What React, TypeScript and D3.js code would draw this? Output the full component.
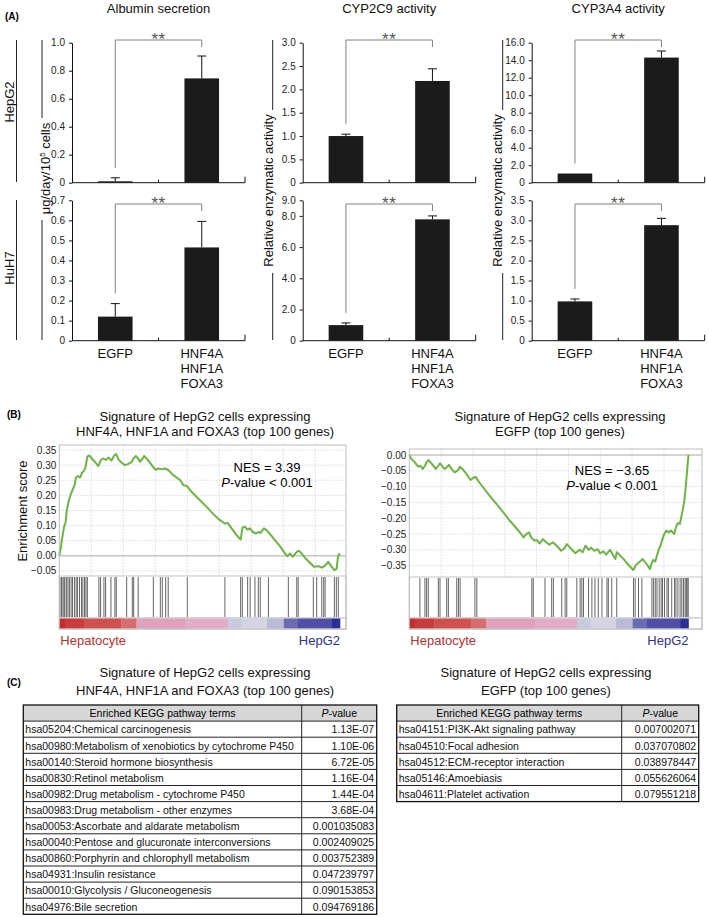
import { useEffect, useRef } from "react";
import * as d3 from "d3";

const FONT = "'Liberation Sans', Arial, Helvetica, sans-serif";
const W = 709;
const H = 917;

// ---------- panel A data ----------
const groups = ["EGFP", "HNF4A|HNF1A|FOXA3"];
const assays = ["Albumin secretion", "CYP2C9 activity", "CYP3A4 activity"];
const cellLines = ["HepG2", "HuH7"];

const albuminHepG2 = [0.01, 0.745];
const albuminHepG2Err = [0.025, 0.16];
const albuminHuH7 = [0.12, 0.465];
const albuminHuH7Err = [0.065, 0.13];
const cyp2c9HepG2 = [1.0, 2.18];
const cyp2c9HepG2Err = [0.04, 0.26];
const cyp2c9HuH7 = [1.0, 7.78];
const cyp2c9HuH7Err = [0.14, 0.22];
const cyp3a4HepG2 = [1.05, 14.3];
const cyp3a4HepG2Err = [0, 0.75];
const cyp3a4HuH7 = [0.98, 2.88];
const cyp3a4HuH7Err = [0.06, 0.17];

const albuminHepG2Ticks = [0, 0.2, 0.4, 0.6, 0.8, 1.0];
const albuminHuH7Ticks = [0, 0.1, 0.2, 0.3, 0.4, 0.5, 0.6, 0.7];
const cyp2c9HepG2Ticks = [0, 0.5, 1.0, 1.5, 2.0, 2.5, 3.0];
const cyp2c9HuH7Ticks = [0, 2, 4, 6, 8, 9];
const cyp3a4HepG2Ticks = [0, 2, 4, 6, 8, 10, 12, 14, 16];
const cyp3a4HuH7Ticks = [0, 0.5, 1.0, 1.5, 2.0, 2.5, 3.0, 3.5];

const yLabels = ["μg/day/10|5| cells", "Relative enzymatic activity", "Relative enzymatic activity"];

// ---------- panel B data (rank %, enrichment score) ----------
const hnfEsTicks = [0.35, 0.3, 0.25, 0.2, 0.15, 0.1, 0.05, 0, -0.05];
const egfpEsTicks = [0, -0.05, -0.1, -0.15, -0.2, -0.25, -0.3, -0.35];
const rankGrid = [11.4, 22.8, 34.2, 45.6, 57, 68.4, 79.8, 91.2];

const hnfCurve: [number, number][] = [
  [0, 0], [0.6, 0.03], [1.1, 0.063], [1.7, 0.096], [2.3, 0.113], [2.6, 0.146], [3.4, 0.184],
  [4.2, 0.206], [4.8, 0.22], [5.5, 0.236], [5.9, 0.259], [6.7, 0.264], [7.4, 0.259], [8.1, 0.275],
  [8.8, 0.281], [9.3, 0.292], [10.0, 0.328], [10.7, 0.332], [11.6, 0.322], [12.7, 0.311],
  [13.9, 0.297], [14.8, 0.317], [15.7, 0.322], [16.6, 0.317], [17.6, 0.325], [18.6, 0.315],
  [19.5, 0.331], [20.2, 0.337], [21.1, 0.319], [22.2, 0.308], [23.4, 0.3], [24.6, 0.304],
  [25.8, 0.311], [26.4, 0.322], [27.3, 0.33], [28.1, 0.322], [28.7, 0.311], [29.7, 0.322],
  [30.2, 0.33], [31.1, 0.322], [32.3, 0.308], [33.5, 0.293], [34.4, 0.284], [35.3, 0.289],
  [36.5, 0.286], [37.6, 0.289], [38.8, 0.284], [40.6, 0.267], [43.0, 0.251], [44.2, 0.234],
  [45.4, 0.231], [47.7, 0.206], [50.1, 0.184], [52.5, 0.162], [54.9, 0.138], [57.2, 0.118],
  [59.0, 0.107], [59.9, 0.109], [61.4, 0.091], [63.2, 0.068], [64.6, 0.054], [65.3, 0.094],
  [66.2, 0.096], [67.0, 0.087], [67.9, 0.091], [68.9, 0.079], [70.1, 0.074], [70.9, 0.079],
  [71.7, 0.076], [72.9, 0.091], [73.6, 0.087], [75.1, 0.072], [76.8, 0.052], [78.6, 0.032],
  [80.4, 0.008], [81.2, -0.001], [82.2, 0.008], [83.1, -0.003], [84.6, 0.013], [85.4, 0.017],
  [86.3, 0.008], [87.5, -0.006], [89.3, -0.023], [90.7, -0.036], [92.3, -0.034], [93.5, -0.039],
  [94.7, -0.032], [95.8, -0.02], [97.0, -0.036], [98.0, -0.047], [98.8, -0.042], [99.2, -0.009],
  [99.6, 0.006], [100, 0.002],
];

const egfpCurve: [number, number][] = [
  [0, 0], [0.8, -0.013], [2.0, -0.023], [3.2, -0.037], [4.0, -0.034], [4.8, -0.044], [5.6, -0.034],
  [6.2, -0.023], [6.8, -0.016], [7.6, -0.023], [8.6, -0.034], [9.5, -0.044], [10.4, -0.034],
  [11.0, -0.026], [11.9, -0.037], [12.7, -0.044], [13.6, -0.037], [14.2, -0.031], [15.1, -0.044],
  [16.3, -0.055], [17.5, -0.048], [18.1, -0.037], [19.0, -0.044], [20.5, -0.06], [21.9, -0.079],
  [22.9, -0.072], [23.8, -0.069], [24.6, -0.081], [26.4, -0.102], [28.8, -0.129], [31.2, -0.155],
  [33.6, -0.181], [36.0, -0.208], [38.3, -0.231], [40.1, -0.25], [40.9, -0.261], [41.9, -0.25],
  [42.9, -0.245], [43.7, -0.261], [44.9, -0.271], [45.7, -0.269], [46.7, -0.28], [47.9, -0.266],
  [49.0, -0.276], [50.2, -0.284], [51.4, -0.276], [52.4, -0.284], [53.6, -0.295], [54.4, -0.303],
  [55.6, -0.295], [56.4, -0.282], [57.6, -0.293], [58.6, -0.303], [59.5, -0.311], [61.0, -0.3],
  [62.1, -0.308], [63.1, -0.287], [64.3, -0.3], [65.1, -0.293], [66.3, -0.303], [67.5, -0.298],
  [68.3, -0.311], [69.5, -0.305], [70.5, -0.315], [71.9, -0.3], [73.1, -0.319], [73.8, -0.329],
  [74.3, -0.308], [75.2, -0.315], [77.0, -0.332], [78.2, -0.345], [79.4, -0.356], [80.2, -0.364],
  [81.0, -0.35], [81.8, -0.343], [82.6, -0.337], [83.6, -0.329], [84.5, -0.34], [85.4, -0.35],
  [86.2, -0.361], [86.7, -0.345], [87.4, -0.332], [88.1, -0.337], [88.6, -0.322], [89.3, -0.3],
  [90.1, -0.284], [90.7, -0.266], [91.3, -0.25], [92.1, -0.239], [92.9, -0.245], [93.7, -0.239],
  [94.9, -0.25], [95.5, -0.229], [96.1, -0.216], [96.9, -0.218], [97.4, -0.197], [97.9, -0.176],
  [98.5, -0.145], [99.0, -0.102], [99.4, -0.06], [99.8, -0.018], [100, 0],
];

const hnfHits = [
  0.25, 0.8, 1.3, 1.7, 2.0, 2.6, 3.1, 3.6, 4.2, 4.7, 5.4, 6.0, 6.5, 7.2, 7.9, 8.4, 9.0, 9.5, 10.0,
  14.1, 14.7, 15.9, 16.5, 18.4, 19.8, 20.3, 24.0, 26.0, 26.5, 28.1, 33.5, 36.0, 36.7, 37.9, 38.8,
  45.6, 59.0, 64.6, 65.2, 67.1, 68.0, 69.7, 70.9, 71.6, 74.5, 81.6, 84.6, 85.1, 90.5, 91.7, 93.5,
  94.2, 94.7, 98.0, 98.7, 99.4,
];

const egfpHits = [
  3.8, 5.6, 6.2, 6.8, 10.4, 11.0, 13.4, 14.0, 17.0, 17.6, 18.2, 23.5, 24.2, 43.9, 44.4, 48.6, 51.0,
  51.6, 54.6, 55.8, 56.4, 60.0, 61.2, 61.8, 62.4, 64.2, 65.4, 66.5, 67.7, 69.0, 70.8, 71.3, 72.5,
  74.3, 80.3, 80.9, 82.1, 83.3, 86.9, 87.5, 88.1, 88.7, 89.5, 90.2, 90.7, 91.4, 92.3, 92.8, 94.0,
  95.0, 95.5, 96.2, 97.0, 97.6, 98.2, 98.8, 99.2, 99.5, 99.9,
];

const rankBandStops = [0, 2, 9, 22, 27.5, 45, 60, 65, 74, 80, 85, 97, 100];
const rankBandColors = [
  "#c42b2d", "#cb3a3c", "#d0504f", "#d86d70", "#dfa1bc", "#e2acc6",
  "#cacade", "#d4d4e5", "#babad8", "#6b6bb3", "#4f4fa7", "#2d2d96",
];

// ---------- panel C data ----------
const hnfTerms = [
  "hsa05204:Chemical carcinogenesis",
  "hsa00980:Metabolism of xenobiotics by cytochrome P450",
  "hsa00140:Steroid hormone biosynthesis",
  "hsa00830:Retinol metabolism",
  "hsa00982:Drug metabolism - cytochrome P450",
  "hsa00983:Drug metabolism - other enzymes",
  "hsa00053:Ascorbate and aldarate metabolism",
  "hsa00040:Pentose and glucuronate interconversions",
  "hsa00860:Porphyrin and chlorophyll metabolism",
  "hsa04931:Insulin resistance",
  "hsa00010:Glycolysis / Gluconeogenesis",
  "hsa04976:Bile secretion",
];
const hnfPvalues = [
  "1.13E-07", "1.10E-06", "6.72E-05", "1.16E-04", "1.44E-04", "3.68E-04",
  "0.001035083", "0.002409025", "0.003752389", "0.047239797", "0.090153853", "0.094769186",
];
const egfpTerms = [
  "hsa04151:PI3K-Akt signaling pathway",
  "hsa04510:Focal adhesion",
  "hsa04512:ECM-receptor interaction",
  "hsa05146:Amoebiasis",
  "hsa04611:Platelet activation",
];
const egfpPvalues = ["0.007002071", "0.037070802", "0.038978447", "0.055626064", "0.079551218"];

type Sel = d3.Selection<SVGSVGElement, unknown, null, undefined>;

function drawPanelA(svg: Sel) {
  const colX = [72, 302.7, 531.7];
  const colW = 173;
  const rowTop = [42.7, 200.3];
  const rowZero = [182.7, 340.7];
  const bracketY = [40, 204];

  const panels = [
    { col: 0, row: 0, values: albuminHepG2, errors: albuminHepG2Err, ticks: albuminHepG2Ticks },
    { col: 0, row: 1, values: albuminHuH7, errors: albuminHuH7Err, ticks: albuminHuH7Ticks },
    { col: 1, row: 0, values: cyp2c9HepG2, errors: cyp2c9HepG2Err, ticks: cyp2c9HepG2Ticks },
    { col: 1, row: 1, values: cyp2c9HuH7, errors: cyp2c9HuH7Err, ticks: cyp2c9HuH7Ticks },
    { col: 2, row: 0, values: cyp3a4HepG2, errors: cyp3a4HepG2Err, ticks: cyp3a4HepG2Ticks },
    { col: 2, row: 1, values: cyp3a4HuH7, errors: cyp3a4HuH7Err, ticks: cyp3a4HuH7Ticks },
  ];

  svg.append("text").attr("x", 5).attr("y", 20).attr("font-size", 10).attr("font-weight", "bold").text("(A)");

  // assay titles
  assays.forEach((t, i) => {
    svg.append("text")
      .attr("x", colX[i] + colW / 2).attr("y", 13)
      .attr("text-anchor", "middle").attr("font-size", 13).attr("fill", "#111")
      .text(t);
  });

  // cell line labels with side rules
  const rowLabelY = [102, 268];
  const rowRule = [[40, 182], [200, 340]];
  cellLines.forEach((c, i) => {
    svg.append("text")
      .attr("transform", `translate(9,${rowLabelY[i]}) rotate(-90)`)
      .attr("text-anchor", "middle").attr("dy", "0.35em").attr("font-size", 13).attr("fill", "#111")
      .text(c);
    svg.append("line").attr("x1", 16.5).attr("x2", 16.5)
      .attr("y1", rowRule[i][0]).attr("y2", rowRule[i][1]).attr("stroke", "#222");
  });

  // y labels with interrupted rules
  const labelX = [45, 268, 497];
  const ruleX = [42, 272.7, 502.7];
  const labelMid = [168.5, 190.5, 190.5];
  const gaps = [[118, 220], [110, 273], [110, 273]];
  yLabels.forEach((lab, i) => {
    const t = svg.append("text")
      .attr("transform", `translate(${labelX[i]},${labelMid[i]}) rotate(-90)`)
      .attr("text-anchor", "middle").attr("dy", "0.35em").attr("font-size", 13).attr("fill", "#111");
    const parts = lab.split("|");
    if (parts.length === 3) {
      t.append("tspan").text(parts[0]);
      t.append("tspan").attr("font-size", 8).attr("dy", -5).text(parts[1]);
      t.append("tspan").attr("dy", 5).text(parts[2]);
    } else {
      t.text(lab);
    }
    svg.append("line").attr("x1", ruleX[i]).attr("x2", ruleX[i])
      .attr("y1", 40).attr("y2", gaps[i][0]).attr("stroke", "#222");
    svg.append("line").attr("x1", ruleX[i]).attr("x2", ruleX[i])
      .attr("y1", gaps[i][1]).attr("y2", 340).attr("stroke", "#222");
  });

  for (const p of panels) {
    const x0 = colX[p.col];
    const zero = rowZero[p.row];
    const x = d3.scaleBand().domain(groups).range([x0, x0 + colW]).paddingInner(0.6).paddingOuter(0.3);
    const y = d3.scaleLinear().domain([0, d3.max(p.ticks)!]).range([zero, rowTop[p.row]]);
    const g = svg.append("g");

    g.append("g")
      .attr("transform", `translate(${x0},0)`)
      .call(d3.axisLeft(y).tickValues(p.ticks).tickSize(3).tickSizeOuter(0).tickPadding(4)
        .tickFormat(d => (+d === 0 ? "0" : d3.format(".1f")(+d))))
      .attr("font-family", FONT)
      .call(a => a.selectAll("text").attr("font-size", 10).attr("fill", "#222"))
      .call(a => a.selectAll("line,path").attr("stroke", "#111"));

    // category axis
    g.append("line").attr("x1", x0).attr("x2", x0 + colW).attr("y1", zero).attr("y2", zero).attr("stroke", "#111");
    g.append("line").attr("x1", x0 + colW / 2).attr("x2", x0 + colW / 2).attr("y1", zero).attr("y2", zero - 3).attr("stroke", "#111");
    g.append("line").attr("x1", x0 + colW).attr("x2", x0 + colW).attr("y1", zero).attr("y2", zero - 6).attr("stroke", "#111");

    // bars
    g.selectAll("rect.bar")
      .data(groups)
      .join("rect")
        .attr("class", "bar")
        .attr("x", d => x(d)!)
        .attr("y", (_, i) => y(p.values[i]))
        .attr("width", x.bandwidth())
        .attr("height", (_, i) => zero - y(p.values[i]))
        .attr("fill", "#1b1b1b");

    // error bars (upper only)
    groups.forEach((gname, i) => {
      if (!p.errors[i]) return;
      const cx = x(gname)! + x.bandwidth() / 2;
      const yt = y(p.values[i] + p.errors[i]);
      g.append("line").attr("x1", cx).attr("x2", cx).attr("y1", y(p.values[i])).attr("y2", yt).attr("stroke", "#111");
      g.append("line").attr("x1", cx - 4.5).attr("x2", cx + 4.5).attr("y1", yt).attr("y2", yt).attr("stroke", "#111");
    });

    // significance bracket
    const c0 = x(groups[0])! + x.bandwidth() / 2;
    const c1 = x(groups[1])! + x.bandwidth() / 2;
    const by = bracketY[p.row];
    const leftEnd = y(p.values[0] + p.errors[0]) - 10;
    g.append("path")
      .attr("d", `M${c0},${leftEnd}V${by}H${c1}V${by + 7}`)
      .attr("fill", "none").attr("stroke", "#808080");
    g.append("text")
      .attr("x", (c0 + c1) / 2).attr("y", by + 5)
      .attr("text-anchor", "middle").attr("font-size", 17).attr("letter-spacing", 0.5).attr("fill", "#555")
      .text("**");

    if (p.row === 1) {
      groups.forEach(gname => {
        const cx = x(gname)! + x.bandwidth() / 2;
        gname.split("|").forEach((line, li) => {
          g.append("text")
            .attr("x", cx).attr("y", 358 + li * 15)
            .attr("text-anchor", "middle").attr("font-size", 13).attr("fill", "#111")
            .text(line);
        });
      });
    }
  }
}

function drawPanelB(svg: Sel) {
  svg.append("text").attr("x", 7).attr("y", 418).attr("font-size", 10).attr("font-weight", "bold").text("(B)");

  const panels = [
    {
      x0: 59.3, x1: 340, right: 346, top: 445, bottom: 576, es: [-0.0666, 0.3666],
      ticks: hnfEsTicks, curve: hnfCurve, hits: hnfHits,
      titles: ["Signature of HepG2 cells expressing", "HNF4A, HNF1A and FOXA3 (top 100 genes)"],
      titleX: 205, nes: "NES = 3.39", nesX: 267, nesY: 471.7,
    },
    {
      x0: 409.3, x1: 688.5, right: 702, top: 449, bottom: 577, es: [-0.386, 0.019],
      ticks: egfpEsTicks, curve: egfpCurve, hits: egfpHits,
      titles: ["Signature of HepG2 cells expressing", "EGFP (top 100 genes)"],
      titleX: 560, nes: "NES = \u22123.65", nesX: 612, nesY: 475,
    },
  ];
  const stripBottom = 618;
  const barBottom = 629;

  for (const p of panels) {
    const x = d3.scaleLinear().domain([0, 100]).range([p.x0, p.x1]);
    const y = d3.scaleLinear().domain(p.es).range([p.bottom, p.top]);
    const g = svg.append("g");

    p.titles.forEach((t, i) => {
      g.append("text").attr("x", p.titleX).attr("y", 421 + i * 15)
        .attr("text-anchor", "middle").attr("font-size", 13).attr("fill", "#111").text(t);
    });

    g.append("rect").attr("x", p.x0).attr("y", p.top).attr("width", p.right - p.x0).attr("height", p.bottom - p.top)
      .attr("fill", "#fff");

    // grid
    g.append("g").attr("stroke", "#e3e3e3").attr("stroke-dasharray", "2,1")
      .call(gg => gg.selectAll("line.h").data(p.ticks.filter(t => t !== 0)).join("line")
        .attr("x1", p.x0).attr("x2", p.right).attr("y1", d => y(d)).attr("y2", d => y(d)))
      .call(gg => gg.selectAll("line.v").data(rankGrid).join("line")
        .attr("x1", d => x(d)).attr("x2", d => x(d)).attr("y1", p.top).attr("y2", p.bottom));

    g.append("line").attr("x1", p.x0).attr("x2", p.right).attr("y1", y(0)).attr("y2", y(0)).attr("stroke", "#a8a8a8");

    // tick labels
    g.selectAll("text.tick").data(p.ticks).join("text")
      .attr("x", p.x0 - 3).attr("y", d => y(d)).attr("dy", "0.35em")
      .attr("text-anchor", "end").attr("font-size", 10).attr("fill", "#222")
      .text(d => d3.format(".2f")(d));

    // running enrichment score
    g.append("path")
      .datum(p.curve)
      .attr("d", d3.line<[number, number]>().x(d => x(d[0])).y(d => y(d[1])))
      .attr("fill", "none").attr("stroke", "#6db543").attr("stroke-width", 2).attr("stroke-linejoin", "round");

    g.append("text").attr("x", p.nesX).attr("y", p.nesY).attr("text-anchor", "middle").attr("font-size", 13).text(p.nes);
    const pv = g.append("text").attr("x", p.nesX).attr("y", p.nesY + 15).attr("text-anchor", "middle").attr("font-size", 13);
    pv.append("tspan").attr("font-style", "italic").text("P");
    pv.append("tspan").text("-value < 0.001");

    // hits
    g.append("rect").attr("x", p.x0).attr("y", p.bottom).attr("width", p.right - p.x0).attr("height", stripBottom - p.bottom)
      .attr("fill", "#fff").attr("stroke", "#c4c4c4");
    g.selectAll("line.hit").data(p.hits).join("line")
      .attr("x1", d => x(d)).attr("x2", d => x(d))
      .attr("y1", p.bottom + 1).attr("y2", stripBottom - 1)
      .attr("stroke", "#333").attr("stroke-width", 1).attr("stroke-opacity", 0.75);

    // ranked list colour bar
    g.append("rect").attr("x", p.x0).attr("y", stripBottom).attr("width", p.right - p.x0).attr("height", barBottom - stripBottom)
      .attr("fill", "#fff").attr("stroke", "#c4c4c4");
    g.selectAll("rect.band").data(rankBandColors).join("rect")
      .attr("x", (_, i) => x(rankBandStops[i]))
      .attr("width", (_, i) => x(rankBandStops[i + 1]) - x(rankBandStops[i]) + 0.3)
      .attr("y", stripBottom + 0.5).attr("height", barBottom - stripBottom - 1)
      .attr("fill", d => d);

    // outer frame
    g.append("rect").attr("x", p.x0).attr("y", p.top).attr("width", p.right - p.x0).attr("height", barBottom - p.top)
      .attr("fill", "none").attr("stroke", "#bdbdbd");

    g.append("text").attr("x", p.x0 + 1).attr("y", 645).attr("font-size", 13).attr("fill", "#c0302d").text("Hepatocyte");
    g.append("text").attr("x", p.x1).attr("y", 645).attr("text-anchor", "end").attr("font-size", 13).attr("fill", "#2e3192").text("HepG2");
  }

  svg.append("text")
    .attr("transform", "translate(22,511) rotate(-90)")
    .attr("text-anchor", "middle").attr("dy", "0.35em").attr("font-size", 13).attr("fill", "#111")
    .text("Enrichment score");
}

function drawPanelC(svg: Sel) {
  svg.append("text").attr("x", 7).attr("y", 686).attr("font-size", 10).attr("font-weight", "bold").text("(C)");

  const tables = [
    { left: 23.3, split: 301.7, right: 376.7, terms: hnfTerms, pvals: hnfPvalues, titleX: 205,
      titles: ["Signature of HepG2 cells expressing", "HNF4A, HNF1A and FOXA3 (top 100 genes)"] },
    { left: 396.7, split: 621.7, right: 698.7, terms: egfpTerms, pvals: egfpPvalues, titleX: 546,
      titles: ["Signature of HepG2 cells expressing", "EGFP (top 100 genes)"] },
  ];
  const top = 705;
  const rowH = 16.1;

  for (const t of tables) {
    const g = svg.append("g");
    t.titles.forEach((s, i) => {
      g.append("text").attr("x", t.titleX).attr("y", 677 + i * 18)
        .attr("text-anchor", "middle").attr("font-size", 13).attr("fill", "#111").text(s);
    });
    const rows = d3.scaleBand<number>().domain(d3.range(t.terms.length)).range([top + rowH, top + rowH * (t.terms.length + 1)]);

    g.append("rect").attr("x", t.left).attr("y", top).attr("width", t.right - t.left).attr("height", rowH)
      .attr("fill", "#d7d7d7");
    g.selectAll("line.row").data(d3.range(t.terms.length)).join("line")
      .attr("x1", t.left).attr("x2", t.right)
      .attr("y1", d => rows(d)!).attr("y2", d => rows(d)!)
      .attr("stroke", "#222");
    g.append("line").attr("x1", t.split).attr("x2", t.split).attr("y1", top).attr("y2", top + rowH * (t.terms.length + 1))
      .attr("stroke", "#222");
    g.append("rect").attr("x", t.left).attr("y", top).attr("width", t.right - t.left).attr("height", rowH * (t.terms.length + 1))
      .attr("fill", "none").attr("stroke", "#111").attr("stroke-width", 1.3);

    g.append("text").attr("x", (t.left + t.split) / 2).attr("y", top + 12.3)
      .attr("text-anchor", "middle").attr("font-size", 10.5).text("Enriched KEGG pathway terms");
    const ph = g.append("text").attr("x", (t.split + t.right) / 2).attr("y", top + 12.3)
      .attr("text-anchor", "middle").attr("font-size", 10.5);
    ph.append("tspan").attr("font-style", "italic").text("P");
    ph.append("tspan").text("-value");

    g.selectAll("text.term").data(t.terms).join("text")
      .attr("x", t.left + 2).attr("y", (_, i) => rows(i)! + 12.3)
      .attr("font-size", 10.5).attr("fill", "#111").text(d => d);
    g.selectAll("text.pv").data(t.pvals).join("text")
      .attr("x", t.right - 2.5).attr("y", (_, i) => rows(i)! + 12.3)
      .attr("text-anchor", "end").attr("font-size", 10.5).attr("fill", "#111").text(d => d);
  }
}

export default function App() {
  const ref = useRef<SVGSVGElement>(null);

  useEffect(() => {
    if (!ref.current) return;
    const svg = d3.select(ref.current) as Sel;
    svg.selectAll("*").remove();
    svg.attr("font-family", FONT);
    svg.append("rect").attr("width", W).attr("height", H).attr("fill", "#fff");
    drawPanelA(svg);
    drawPanelB(svg);
    drawPanelC(svg);
  }, []);

  return (
    <div style={{ position: "absolute", left: 0, top: 0 }}>
      <svg ref={ref} width={W} height={H} style={{ display: "block" }} />
    </div>
  );
}
